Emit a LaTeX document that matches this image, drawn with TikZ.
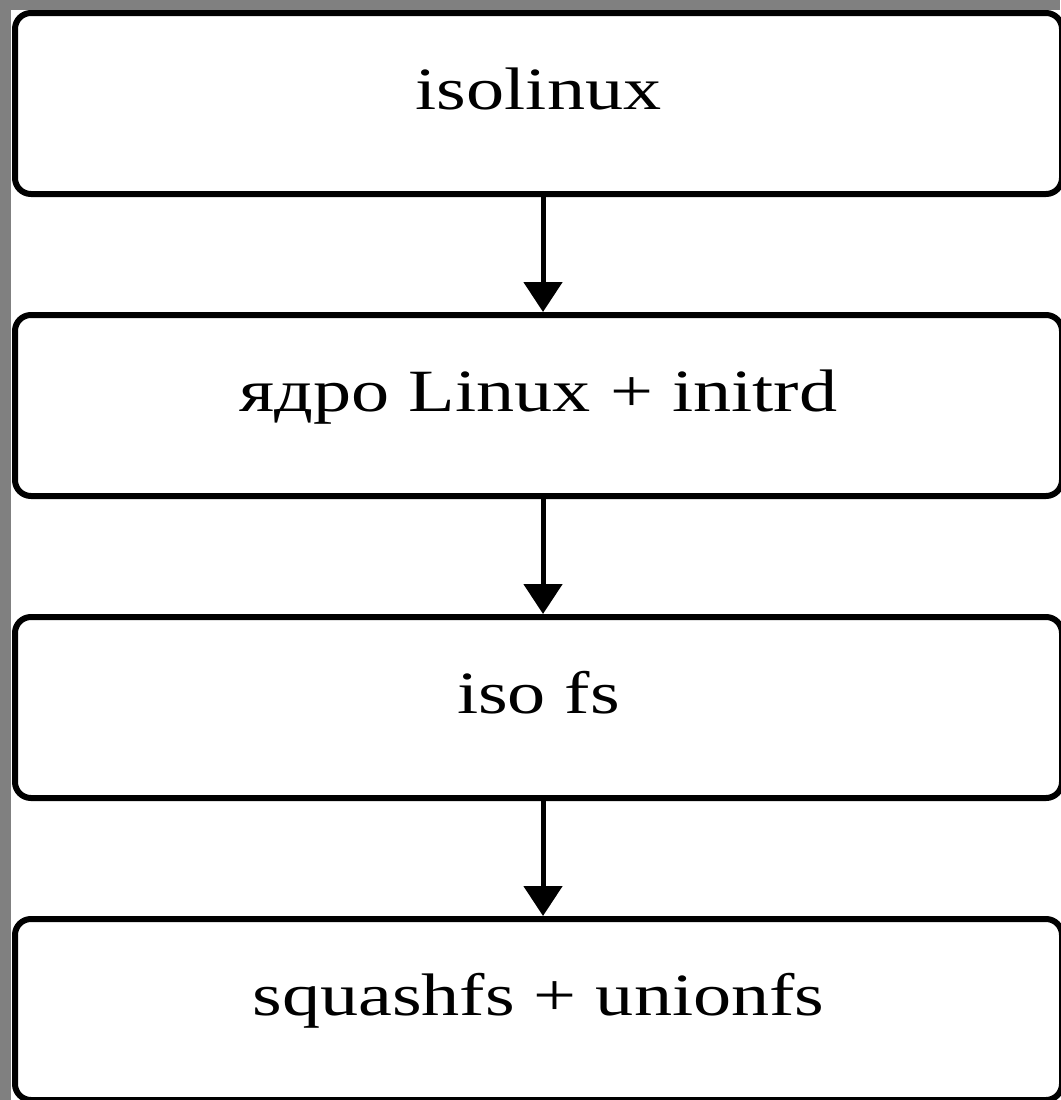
\documentclass[tikz,border=0pt]{standalone}
\usepackage{fontspec}
\setmainfont{Liberation Serif}
\usetikzlibrary{arrows.meta}
\begin{document}
\begin{tikzpicture}[x=1pt,y=-1pt,
  stagebox/.style={draw=black, fill=white, line width=6pt, rounded corners=16pt,
    minimum width=1047pt, minimum height=181pt, inner sep=0pt,
    text height=30pt, text depth=18pt,
    font=\fontsize{60}{72}\selectfont},
  flow/.style={line width=5pt, -{Triangle[width=38pt,length=30pt]}}]
\useasboundingbox (0,0) rectangle (1060,1100);
\fill[gray!100!black, fill={rgb,255:red,128;green,128;blue,128}] (0,0) rectangle (1060,1100);
\fill[white] (11,10) rectangle (1060,1100);
\node[stagebox] (b1) at (538.5,103.5) {\scalebox{1.27}[1]{isolinux}};
\node[stagebox] (b2) at (538.5,405.5) {\scalebox{1.27}[1]{ядро Linux + initrd}};
\node[stagebox] (b3) at (538.5,707.5) {\scalebox{1.27}[1]{iso fs}};
\node[stagebox] (b4) at (538.5,1009.5) {\scalebox{1.27}[1]{squashfs + unionfs}};
\draw[flow] ([xshift=4.5pt]b1.south) -- ([xshift=4.5pt]b2.north);
\draw[flow] ([xshift=4.5pt]b2.south) -- ([xshift=4.5pt]b3.north);
\draw[flow] ([xshift=4.5pt]b3.south) -- ([xshift=4.5pt]b4.north);
\end{tikzpicture}
\end{document}
